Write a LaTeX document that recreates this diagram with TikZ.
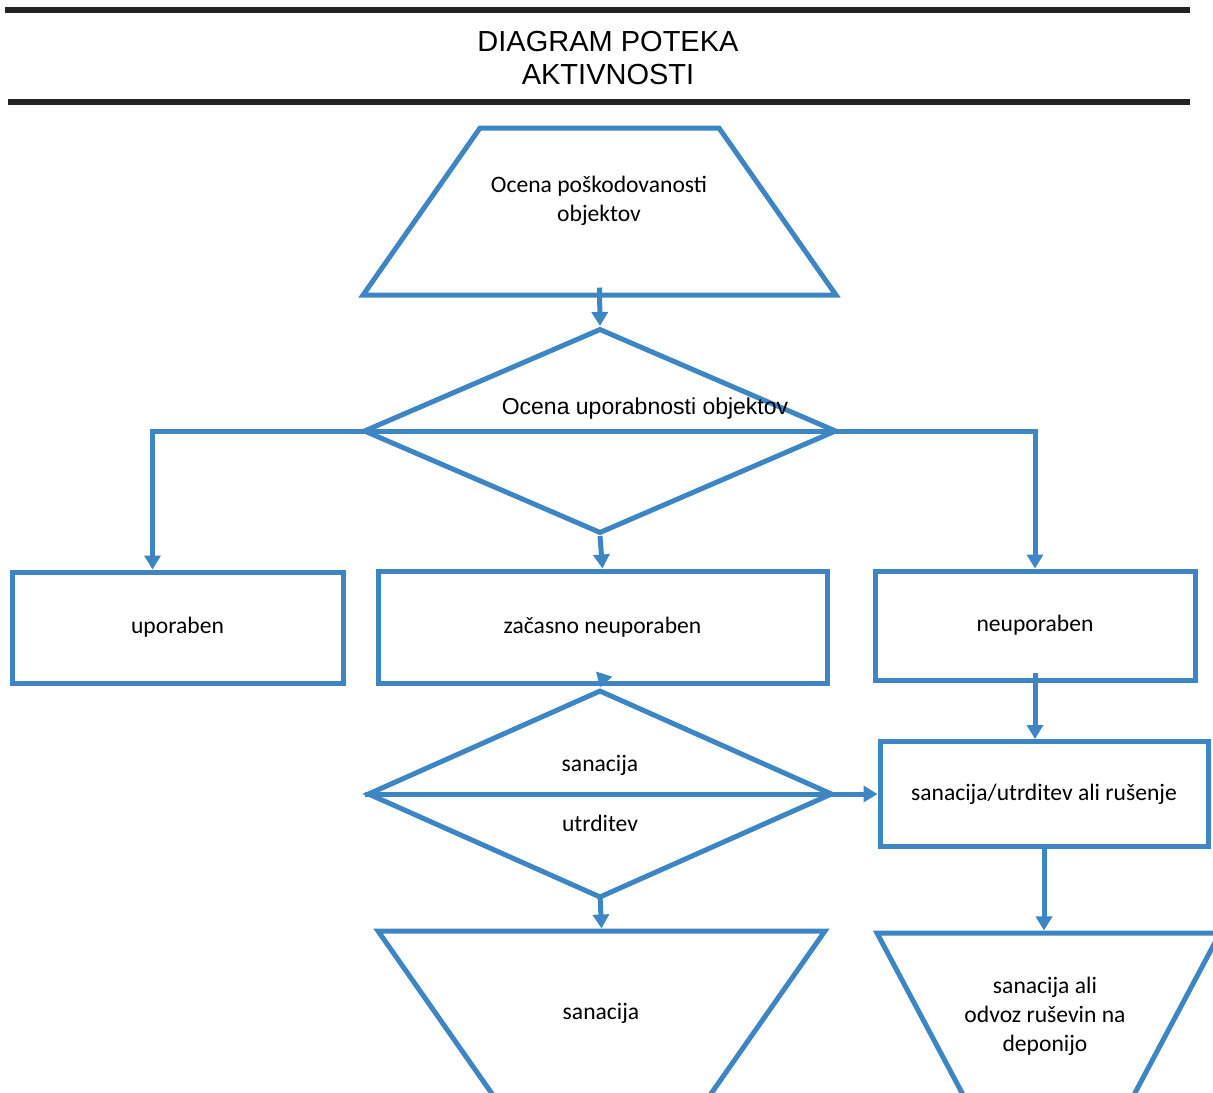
\documentclass[tikz,border=0pt]{standalone}
\usepackage{fontspec}
\setmainfont{Carlito}
\newfontfamily\arialfont{Liberation Sans}
\usetikzlibrary{shapes.geometric,arrows.meta,positioning}

\definecolor{flowblue}{RGB}{61,134,195}
\definecolor{rulegray}{RGB}{35,35,35}

\tikzset{
	flow/.style={flowblue, line width=2.5pt},
	arr/.style={flow, -{Triangle[width=8pt,length=7pt]}},
	box/.style={draw=flowblue, line width=2.5pt, rectangle, inner sep=0pt, align=center, font=\fontsize{11.8}{14.5}\selectfont},
	decision/.style={draw=flowblue, line width=2.5pt, diamond, inner sep=2pt},
	trap/.style={draw=flowblue, line width=2.5pt, trapezium, inner ysep=41.75pt},
	txt/.style={inner sep=0pt, align=center, font=\fontsize{11.8}{14.5}\selectfont},
	rule/.style={rulegray, line width=3pt}
}

\begin{document}
\begin{tikzpicture}[x=0.5pt, y=-0.5pt]
	\useasboundingbox (0,0) rectangle (1213,1092);
	\clip (0,0) rectangle (1213,1092);

	\draw[rule] (5,10) -- (1190,10);
	\draw[rule] (8,102) -- (1190,102);
	\node[align=center, inner sep=0pt, font=\arialfont\fontsize{14.5}{16.5}\selectfont] (title) at (608,58) {DIAGRAM POTEKA\\AKTIVNOSTI};

	\node[trap, trapezium left angle=55, trapezium right angle=55, inner xsep=59.75pt] (ocena) at (599.5,211.5) {};
	\node[txt] (ocenatxt) at (599,201) {Ocena poškodovanosti\\objektov};

	\node[decision, minimum width=236.5pt, minimum height=102.5pt] (d1) at (600,431) {};
	\node[inner sep=0pt, font=\arialfont\fontsize{11.5}{13}\selectfont] (d1txt) at (645,409) {Ocena uporabnosti objektov};

	\node[box, minimum width=165.5pt, minimum height=55.5pt] (upo) at (177.5,627.5) {uporaben};
	\node[box, minimum width=224.5pt, minimum height=56pt] (zac) at (602.5,627) {začasno neuporaben};
	\node[box, minimum width=160pt, minimum height=54.5pt] (neup) at (1035,625.5) {neuporaben};

	\node[decision, minimum width=232.5pt, minimum height=104pt] (d2) at (600,794) {};
	\node[txt] (santxt) at (600,765) {sanacija};
	\node[txt] (utrtxt) at (600,823) {utrditev};

	\node[box, minimum width=164pt, minimum height=52.5pt] (sanut) at (1044,794) {sanacija/utrditev ali rušenje};

	\node[trap, shape border rotate=180, trapezium left angle=55, trapezium right angle=55, inner xsep=53.25pt] (sanac) at (601.5,1014.5) {};
	\node[txt] (sanactxt) at (601,1013) {sanacija};
	\node[trap, shape border rotate=180, trapezium left angle=62, trapezium right angle=62, inner xsep=41.35pt] (depo) at (1048.5,1016.5) {};
	\node[txt] (depotxt) at (1045,1016) {sanacija ali\\odvoz ruševin na\\deponijo};

	\coordinate (upoin) at ([xshift=-12.5pt]upo.north);

	\draw[arr] ([yshift=5pt]ocena.south) -- (d1.north);
	\draw[flow] (d1.west) -- (d1.east);
	\draw[arr] (d1.west) -| (upoin);
	\draw[arr] (d1.east) -| (neup.north);
	\draw[arr] (d1.south) -- (zac.north);
	\draw[arr] ([yshift=3pt]zac.south) -- (d2.north);
	\draw[arr] (d2.west) -- (sanut.west);
	\draw[arr] ([yshift=3pt]d2.south) -- (sanac.north);
	\draw[arr] ([yshift=5pt]neup.south) -- (neup.south |- sanut.north);
	\draw[arr] (sanut.south) -- (sanut.south |- depo.north);
\end{tikzpicture}
\end{document}
